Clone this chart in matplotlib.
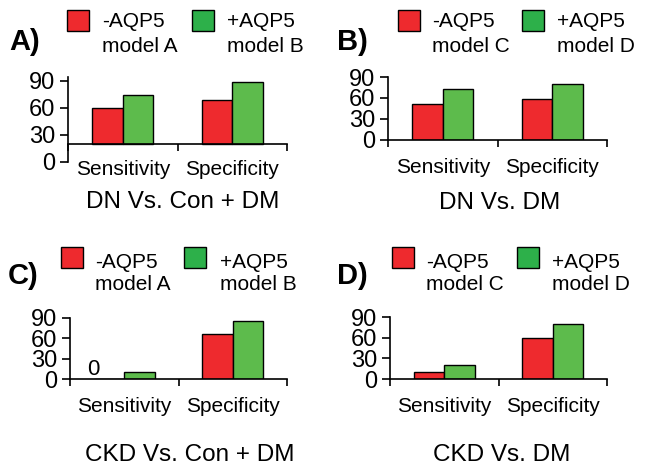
import numpy as np
import matplotlib.pyplot as plt
from matplotlib.patches import Rectangle

plt.rcParams['font.family'] = ['Liberation Sans', 'DejaVu Sans']

# data (%)
categories = ['Sensitivity', 'Specificity']
minus_vals = {'A': [60, 69], 'B': [51, 59], 'C': [0, 66], 'D': [10, 60]}
plus_vals = {'A': [74, 88], 'B': [73, 80], 'C': [10, 86], 'D': [20, 80]}
baselines = {'A': 20, 'B': 0, 'C': 0, 'D': 0}
titles = {'A': 'DN Vs. Con + DM', 'B': 'DN Vs. DM',
          'C': 'CKD Vs. Con + DM', 'D': 'CKD Vs. DM'}
minus_labels = {'A': ['-AQP5', 'model A'], 'B': ['-AQP5', 'model C'],
                'C': ['-AQP5', 'model A'], 'D': ['-AQP5', 'model C']}
plus_labels = {'A': ['+AQP5', 'model B'], 'B': ['+AQP5', 'model D'],
               'C': ['+AQP5', 'model B'], 'D': ['+AQP5', 'model D']}
yticks = [0, 30, 60, 90]

RED = '#ee2a2e'
GREEN_BAR = '#5dbb4c'
GREEN_LEG = '#2db04a'

W, H = 645, 471
fig = plt.figure(figsize=(W / 100, H / 100), dpi=100)


def fx(x):
    return x / W


def fy(y):
    return 1 - y / H


# pixel layout: axes (left, right, top, bottom), ylim top, legend, letter, title
layout = {
    'A': dict(ax=(68, 287, 77, 162), ytop=94, pad=11.5, sq=(67, 192), tx=(102, 227),
              sqy=(10, 31), base=(27, 52), letter=(9, 50), title=(183, 208)),
    'B': dict(ax=(388, 607, 77, 140), ytop=90, pad=13, sq=(398, 522), tx=(432, 557),
              sqy=(10, 31), base=(27, 52), letter=(337, 50), title=(500, 209)),
    'C': dict(ax=(70, 287, 318, 379), ytop=90, pad=13, sq=(61, 184), tx=(95, 220),
              sqy=(247, 268), base=(268, 290), letter=(8, 284), title=(190, 461)),
    'D': dict(ax=(390, 607, 317, 379), ytop=90, pad=13, sq=(392, 517), tx=(426, 552),
              sqy=(247, 268), base=(268, 290), letter=(337, 284), title=(502, 461)),
}

x = np.arange(len(categories))
bw = 0.28

for key, lay in layout.items():
    l, r, t, b = lay['ax']
    ax = fig.add_axes([fx(l), fy(b), (r - l) / W, (b - t) / H])
    base = baselines[key]
    mv = np.array(minus_vals[key], dtype=float)
    pv = np.array(plus_vals[key], dtype=float)
    ax.bar(x - bw / 2, mv - base, bw, bottom=base, color=RED,
           edgecolor='black', linewidth=1.0, zorder=2)
    ax.bar(x + bw / 2, pv - base, bw, bottom=base, color=GREEN_BAR,
           edgecolor='black', linewidth=1.0, zorder=2)
    ax.set_xlim(-0.5, 1.5)
    ax.set_ylim(0, lay['ytop'])
    ax.set_yticks(yticks)
    ax.set_yticklabels([str(v) for v in yticks])
    ax.set_xticks(x)
    ax.set_xticklabels(categories)
    ax.set_xticks([-0.5, 0.5, 1.5], minor=True)
    ax.tick_params(axis='x', which='major', length=0, pad=lay['pad'], labelsize=15)
    ax.tick_params(axis='x', which='minor', length=5, width=1.2, direction='out')
    ax.tick_params(axis='y', length=6, width=1.2, pad=3, labelsize=17)
    for s in ['top', 'right']:
        ax.spines[s].set_visible(False)
    ax.spines['left'].set_linewidth(1.2)
    ax.spines['bottom'].set_linewidth(1.2)
    ax.spines['bottom'].set_position(('data', base))
    # zero-valued bar gets a text marker
    for xi, v in zip(x, mv):
        if v == 0:
            ax.annotate('0', (xi - bw / 2, 0), xytext=(-11, 3),
                        textcoords='offset points', ha='center', va='baseline',
                        fontsize=16)

    # legend drawn by hand so the swatches sit next to the first text line
    sy0, sy1 = lay['sqy']
    for sxl, col in zip(lay['sq'], [RED, GREEN_LEG]):
        fig.patches.append(Rectangle((fx(sxl), fy(sy1)), 22 / W, (sy1 - sy0) / H,
                                     transform=fig.transFigure, facecolor=col,
                                     edgecolor='black', linewidth=1.0))
    for txl, lab in zip(lay['tx'], [minus_labels[key], plus_labels[key]]):
        for line, by in zip(lab, lay['base']):
            fig.text(fx(txl), fy(by), line, fontsize=15, ha='left', va='baseline')

    lx, ly = lay['letter']
    fig.text(fx(lx), fy(ly), key + ')', fontsize=21, fontweight='bold',
             ha='left', va='baseline')
    tx_, ty_ = lay['title']
    fig.text(fx(tx_), fy(ty_), titles[key], fontsize=17.5, ha='center',
             va='baseline')

fig.savefig('out.png', dpi=100)
